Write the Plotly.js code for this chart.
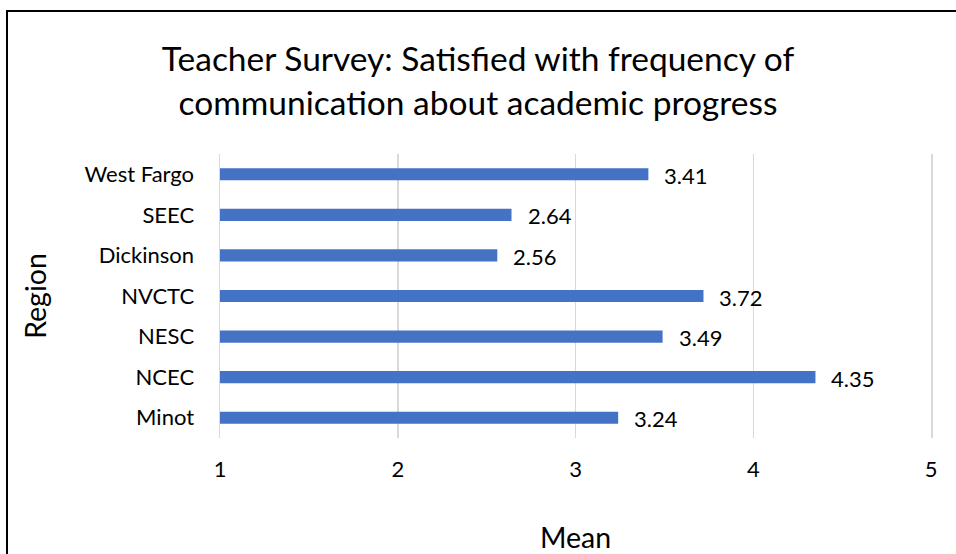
<!DOCTYPE html>
<html>
<head>
<meta charset="utf-8">
<script src="https://cdn.plot.ly/plotly-3.0.1.min.js"></script>
<style>
  html, body { margin: 0; padding: 0; background: #fff; overflow: hidden; }
  #chart { width: 956px; height: 554px; position: absolute; left: 0; top: 0; }
  #frame { position: absolute; left: 6px; top: 10px; width: 1000px; height: 700px;
           border: 2px solid #000; pointer-events: none; box-sizing: border-box; }
</style>
</head>
<body>
<div id="chart"></div>
<div id="frame"></div>
<script>
// Data (bottom to top)
const regions = ['Minot', 'NCEC', 'NESC', 'NVCTC', 'Dickinson', 'SEEC', 'West Fargo'];
const means = [3.24, 4.35, 3.49, 3.72, 2.56, 2.64, 3.41];
const xTicks = [1, 2, 3, 4, 5];

const FONT = 'Lato, Calibri, Carlito, sans-serif';

const trace = {
  type: 'bar',
  orientation: 'h',
  x: means,
  y: regions,
  marker: { color: '#4472C4' },
  width: 0.3,
  hoverinfo: 'x+y'
};

const labels = regions.map((r, i) => ({
  x: means[i], y: r, xref: 'x', yref: 'y',
  text: means[i].toFixed(2),
  showarrow: false, xanchor: 'left', yanchor: 'middle',
  xshift: 14, yshift: -1,
  font: { family: FONT, size: 22, color: '#000' }
}));

const layout = {
  width: 956, height: 554,
  margin: { l: 220, r: 24.5, t: 154, b: 116 },
  paper_bgcolor: '#fff', plot_bgcolor: '#fff',
  font: { family: FONT, color: '#000' },
  showlegend: false,
  title: {
    text: 'Teacher Survey: Satisfied with frequency of<br>communication about academic progress',
    font: { family: FONT, size: 33.5, color: '#000' },
    x: 0.5, xref: 'container', xanchor: 'center',
    y: 1 - 71 / 554, yref: 'container', yanchor: 'middle'
  },
  xaxis: {
    range: [1, 5],
    tickvals: xTicks,
    ticktext: xTicks.map(String),
    showgrid: true, gridcolor: '#d9d9d9', gridwidth: 1.5,
    zeroline: false, showline: false,
    ticks: 'outside', ticklen: 12, tickcolor: 'rgba(0,0,0,0)',
    tickfont: { family: FONT, size: 22, color: '#000' },
    title: { text: 'Mean', font: { family: FONT, size: 28.5, color: '#000' }, standoff: 46 },
    fixedrange: true
  },
  yaxis: {
    type: 'category',
    showgrid: false, zeroline: false,
    showline: true, mirror: true, linecolor: '#d9d9d9', linewidth: 1.5,
    ticks: 'outside', ticklen: 20, tickcolor: 'rgba(0,0,0,0)',
    tickfont: { family: FONT, size: 22, color: '#000' },
    title: { text: 'Region', font: { family: FONT, size: 28.5, color: '#000' }, standoff: 29 },
    fixedrange: true
  },
  annotations: labels
};

Plotly.newPlot('chart', [trace], layout, { displayModeBar: false, staticPlot: true });
</script>
</body>
</html>
